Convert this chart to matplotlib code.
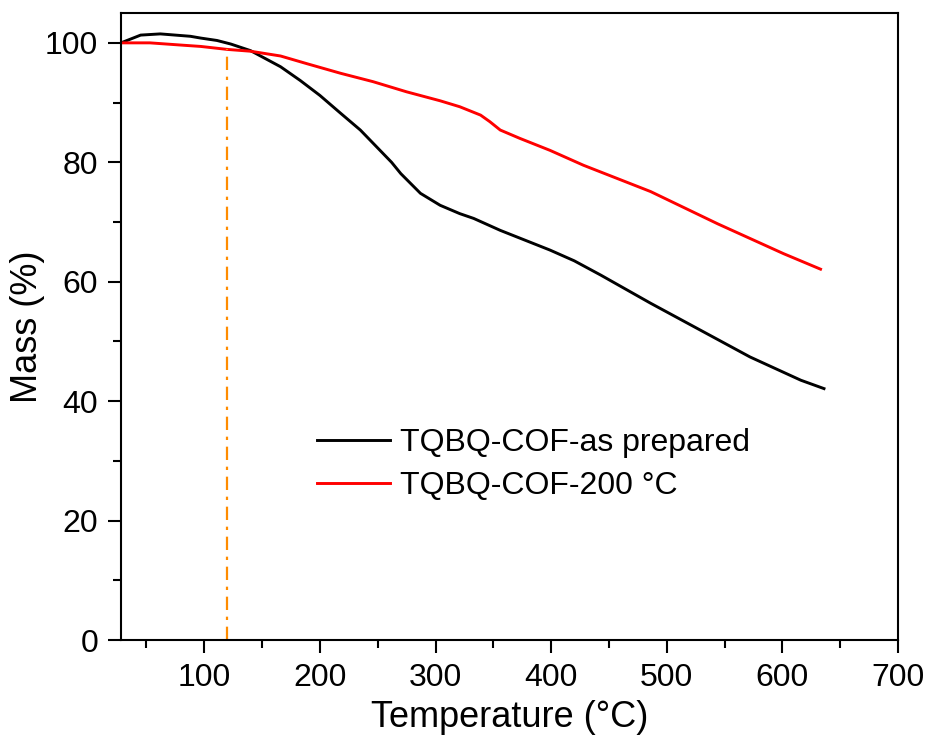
import numpy as np
import matplotlib
matplotlib.use("Agg")
import matplotlib.pyplot as plt
from matplotlib.ticker import MultipleLocator

plt.rcParams['font.family'] = ['Liberation Sans', 'DejaVu Sans']

# ---- data (temperature in C, mass in %) ----
t_asprep = [28, 45, 62, 88, 97, 111, 123, 140, 166, 183, 200, 218, 235, 252,
            262, 270, 287, 304, 321, 333, 356, 399, 420, 443, 486, 529, 572,
            616, 636]
m_asprep = [100.0, 101.3, 101.5, 101.1, 100.8, 100.4, 99.8, 98.7, 96.0, 93.7,
            91.2, 88.2, 85.4, 82.0, 80.0, 78.1, 74.8, 72.8, 71.4, 70.6, 68.6,
            65.3, 63.5, 61.1, 56.4, 51.9, 47.4, 43.5, 42.1]

t_200 = [28, 53, 82, 97, 120, 140, 166, 189, 218, 246, 275, 304, 321, 339,
         347, 356, 373, 399, 428, 486, 544, 601, 633]
m_200 = [100.0, 100.0, 99.6, 99.4, 98.9, 98.6, 97.8, 96.5, 94.9, 93.5, 91.8,
         90.3, 89.3, 87.9, 86.8, 85.4, 84.0, 82.0, 79.5, 75.1, 69.7, 64.7, 62.1]

marker_temp = 120
labels = ["TQBQ-COF-as prepared", "TQBQ-COF-200 \u00b0C"]

fig = plt.figure(figsize=(9.33, 7.44), dpi=100)
ax = fig.add_axes([121 / 933, 1 - 640 / 744, 777 / 933, 627 / 744])

ax.plot(t_asprep, m_asprep, color="black", lw=2.1, label=labels[0])
ax.plot(t_200, m_200, color="#ff0000", lw=2.1, label=labels[1])

# dash-dot marker at 120 C, up to the red curve
ax.plot([marker_temp, marker_temp], [0, np.interp(marker_temp, t_200, m_200)],
        color="#ff8c00", lw=1.6, ls=(0, (6, 3, 1.5, 3)))

ax.set_xlim(28, 700)
ax.set_ylim(0, 105)
ax.xaxis.set_major_locator(MultipleLocator(100))
ax.xaxis.set_minor_locator(MultipleLocator(50))
ax.yaxis.set_major_locator(MultipleLocator(20))
ax.yaxis.set_minor_locator(MultipleLocator(10))
ax.tick_params(which="major", direction="out", length=9.5, width=1.5,
               labelsize=23, pad=7, top=False, right=False)
ax.tick_params(which="minor", direction="out", length=6, width=1.5,
               top=False, right=False)
for s in ax.spines.values():
    s.set_linewidth(1.5)

ax.set_xlabel("Temperature (\u00b0C)", fontsize=26, labelpad=5)
ax.set_ylabel("Mass (%)", fontsize=26, labelpad=0)

ax.legend(loc="center left", bbox_to_anchor=(0.215, 0.28), frameon=False,
          fontsize=23, handlelength=2.3, handletextpad=0.3, labelspacing=0.4)

fig.savefig("out.png", dpi=100)
